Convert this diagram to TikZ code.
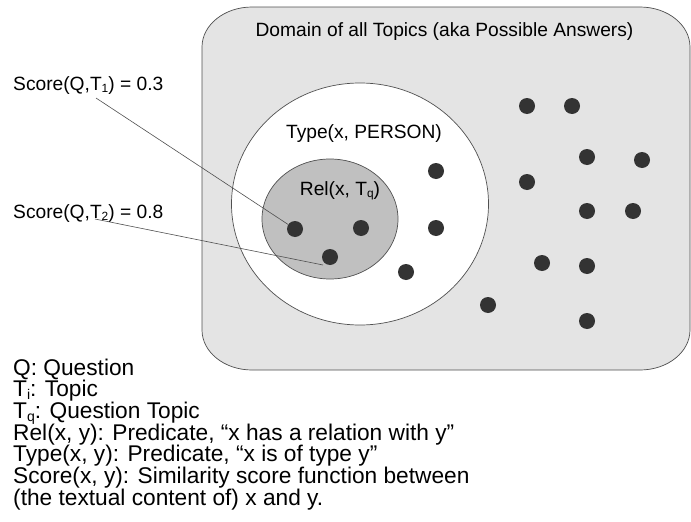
\documentclass[tikz,border=0pt]{standalone}
\usepackage{fontspec}
\usepackage{graphicx}
\setmainfont{Liberation Sans}
\definecolor{domfill}{HTML}{E4E4E4}
\definecolor{relfill}{HTML}{C0C0C0}
\definecolor{edge}{HTML}{505050}
\definecolor{dotc}{HTML}{333333}
\newcommand\lowsub[1]{\raisebox{-0.12em}{\scalebox{0.62}{#1}}}
\tikzset{
  area/.style={draw=edge, line width=0.7pt},
  dotn/.style={circle, fill=dotc, draw=none, inner sep=0pt, minimum size=16pt},
  lbl/.style={inner sep=0pt, font=\fontsize{19.2}{22}\selectfont},
  legend/.style={inner sep=0pt, anchor=base west, font=\fontsize{22.7}{22}\selectfont},
  conn/.style={draw=edge, line width=0.6pt}
}
\begin{document}
\begin{tikzpicture}[x=1pt,y=-1pt]
\useasboundingbox[fill=white] (0,0) rectangle (691,522);
% domain
\filldraw[area, fill=domfill] (202,47) arc[start angle=180, end angle=270, x radius=50, y radius=40]
  -- (640,7) arc[start angle=270, end angle=360, x radius=50, y radius=40]
  -- (690,330) arc[start angle=0, end angle=90, x radius=50, y radius=40]
  -- (252,370) arc[start angle=90, end angle=180, x radius=50, y radius=40] -- cycle;
% type circle
\filldraw[area, fill=white] (360,204) ellipse[x radius=128.5, y radius=121];
% rel ellipse
\filldraw[area, fill=relfill] (330,219) ellipse[x radius=68, y radius=60];
% texts
\node[lbl, anchor=base] (dom) at (444.5,36) {Domain of all Topics (aka Possible Answers)};
\node[lbl, anchor=base] (type) at (364,138) {Type(x, PERSON)};
\node[lbl, anchor=base] (rel) at (340,195) {Rel(x, T\lowsub{q})};
\node[lbl, anchor=base west] (s1) at (13,90) {Score(Q,T\lowsub{1}) = 0.3};
\node[lbl, anchor=base west] (s2) at (13,218) {Score(Q,T\lowsub{2}) = 0.8};
% dots inside rel
\node[dotn] (d1) at (295,229) {};
\node[dotn] (d2) at (361,228) {};
\node[dotn] (d3) at (330,257) {};
% dots inside type
\node[dotn] (d4) at (436,171) {};
\node[dotn] (d5) at (436,228) {};
\node[dotn] (d6) at (406,272) {};
% dots outside
\node[dotn] (d7) at (527,106) {};
\node[dotn] (d8) at (572,106) {};
\node[dotn] (d9) at (587,157) {};
\node[dotn] (d10) at (642,160) {};
\node[dotn] (d11) at (527,182) {};
\node[dotn] (d12) at (587,211) {};
\node[dotn] (d13) at (633,211) {};
\node[dotn] (d14) at (542,263) {};
\node[dotn] (d15) at (587,266) {};
\node[dotn] (d16) at (488,305) {};
\node[dotn] (d17) at (587,321) {};
% connectors
\coordinate (c1) at (96,98);
\coordinate (c2) at (95,219);
\coordinate (e2) at (323,265);
\draw[conn] (c1) -- (d1);
\draw[conn] (c2) -- (e2);
% legend
\node[legend] (l1) at (13,375) {Q: Question};
\node[legend] (l2) at (13,396.7) {T\lowsub{i}: Topic};
\node[legend] (l3) at (13,418.3) {T\lowsub{q}: Question Topic};
\node[legend] (l4) at (13,440) {Rel(x, y): Predicate, “x has a relation with y”};
\node[legend] (l5) at (13,461.7) {Type(x, y): Predicate, “x is of type y”};
\node[legend] (l6) at (13,483.3) {Score(x, y): Similarity score function between};
\node[legend] (l7) at (13,505) {(the textual content of) x and y.};
\end{tikzpicture}
\end{document}
